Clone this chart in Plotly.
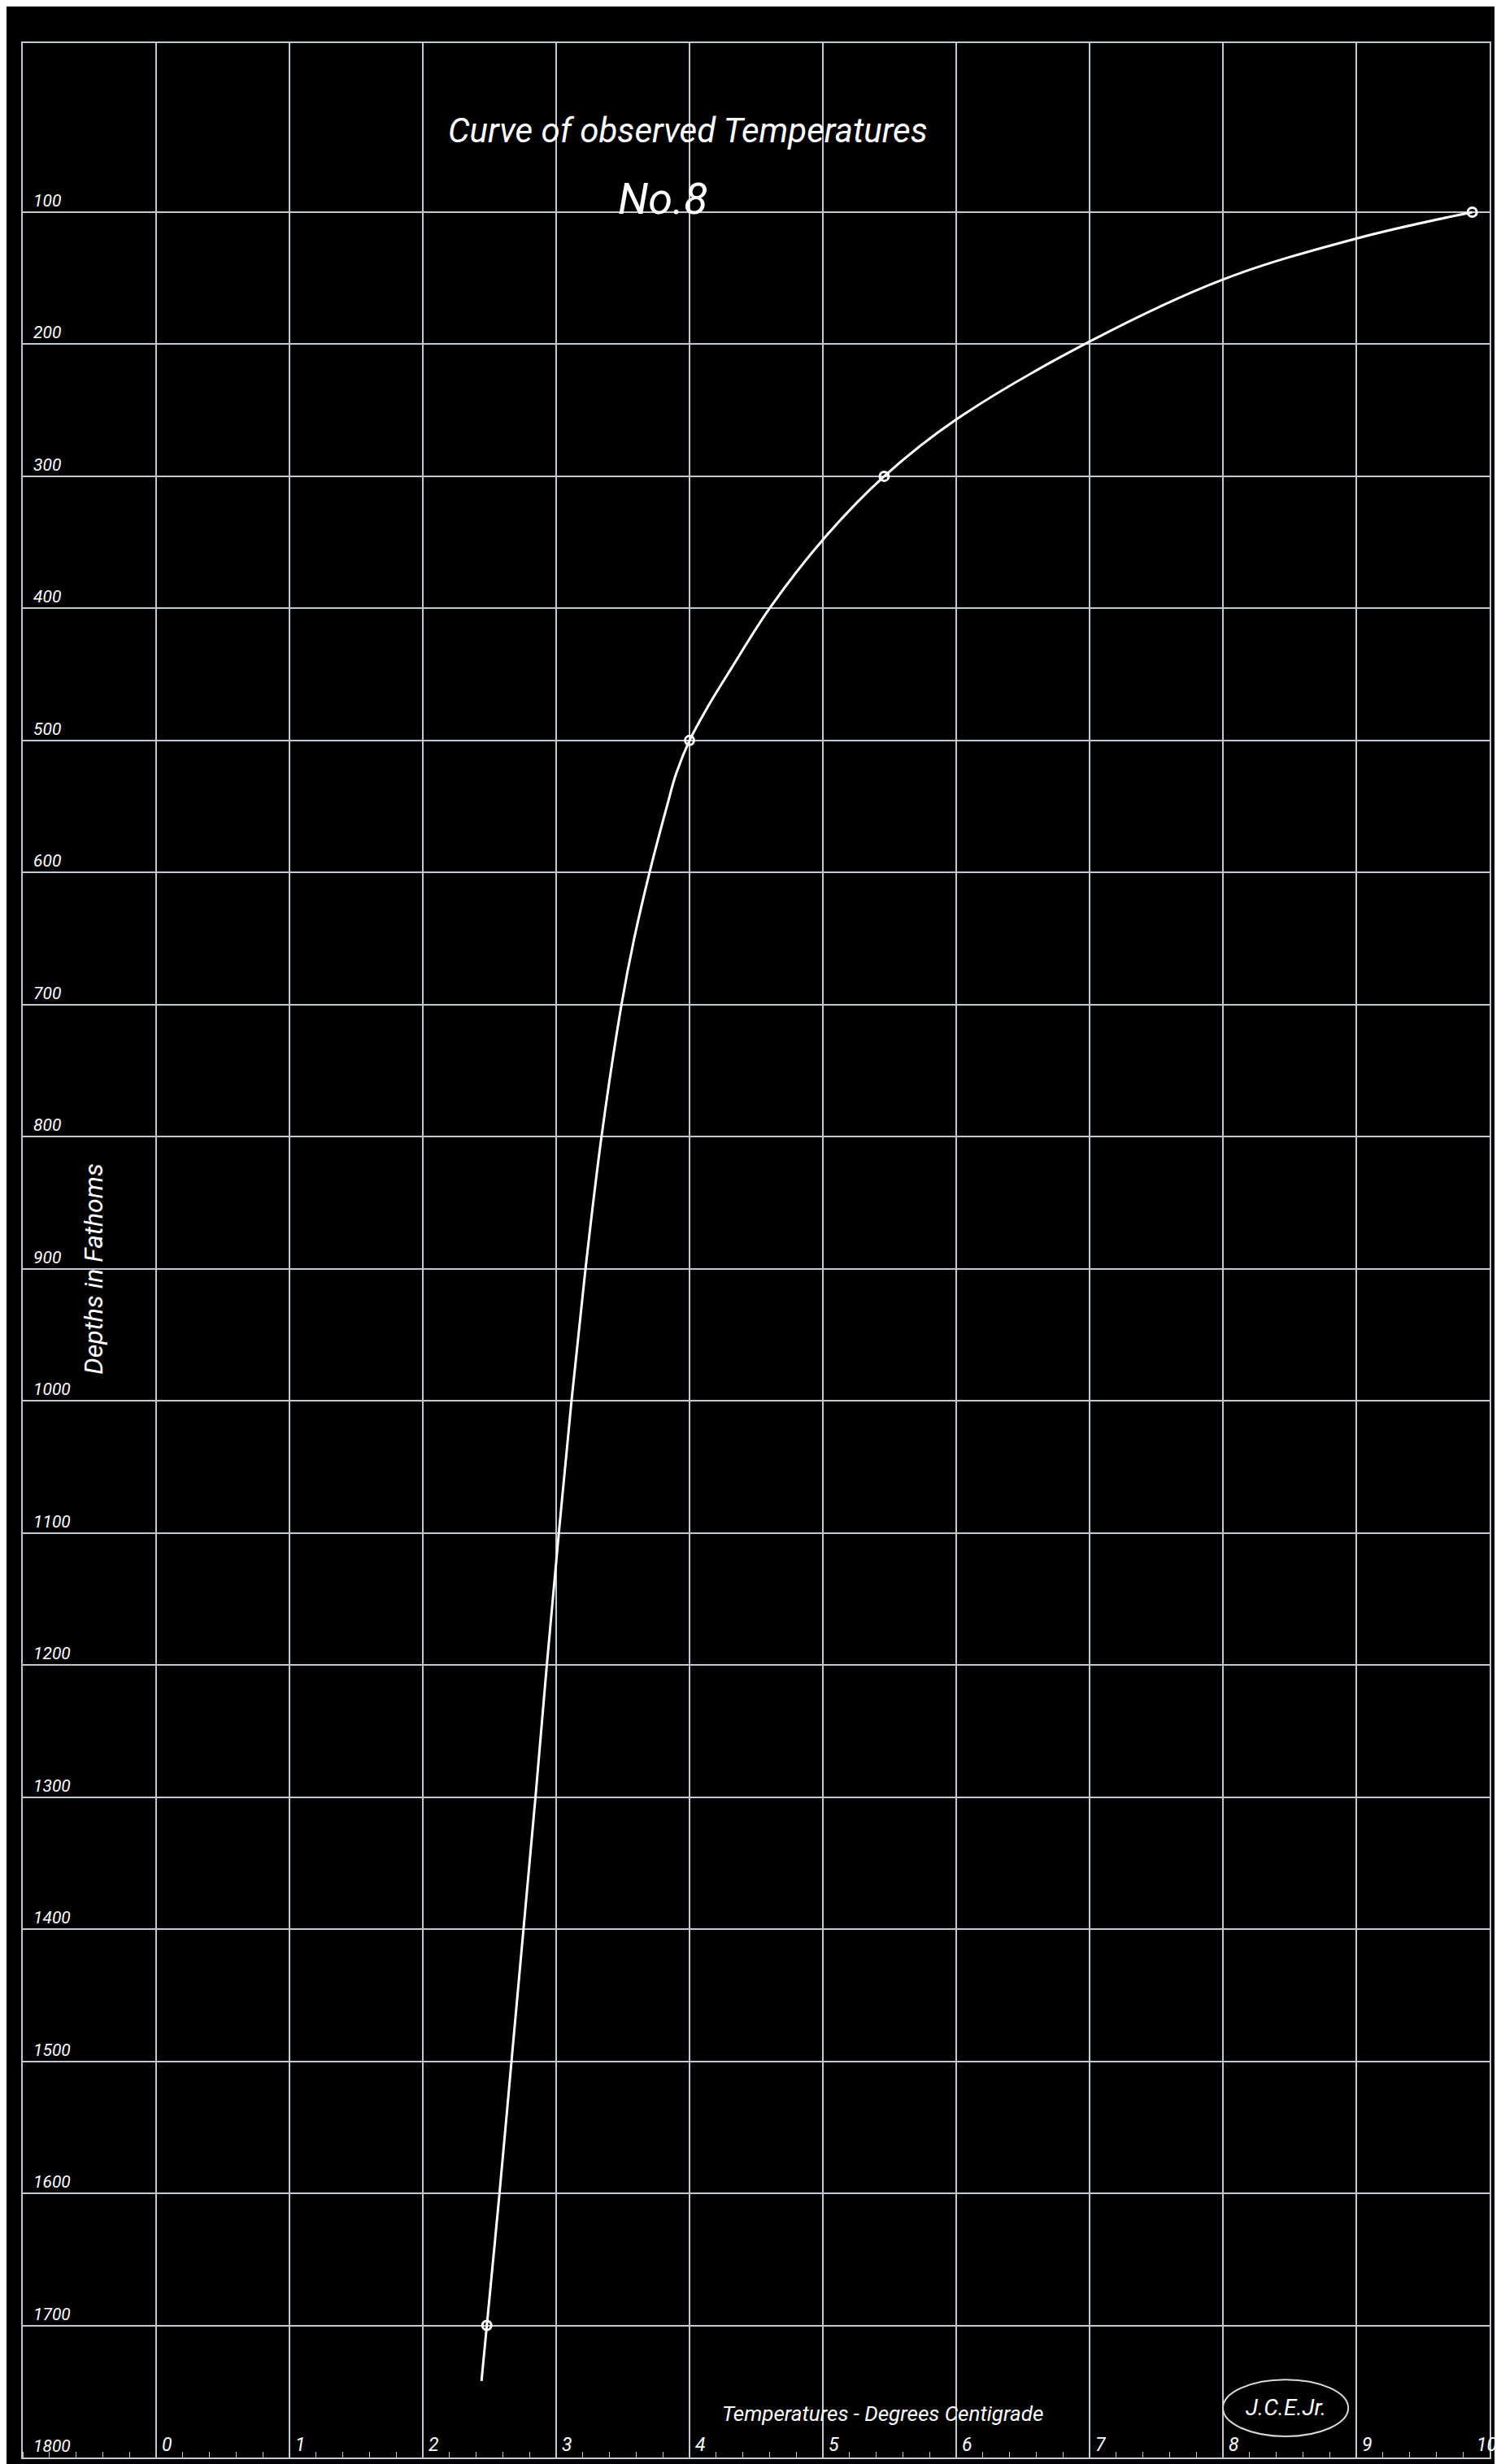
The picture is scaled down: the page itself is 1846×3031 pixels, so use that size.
import plotly.graph_objects as go

# ---- data ----
# smooth curve drawn through the observations (temperature °C, depth fathoms)
curve_temp = [9.87, 9.0, 8.0, 7.0, 6.0, 5.46, 5.0, 4.6, 4.31, 4.14, 4.0, 3.9, 3.83, 3.70,
              3.585, 3.49, 3.34, 3.22, 3.115, 3.02, 2.93, 2.845, 2.755, 2.665, 2.575,
              2.48, 2.44]
curve_depth = [100, 120, 151, 198, 257, 300, 348, 400, 446, 474, 500, 525, 550, 600,
               650, 700, 800, 900, 1000, 1100, 1200, 1300, 1400, 1500, 1600,
               1700, 1742]

# observed points (small circles)
obs_temp = [9.87, 5.46, 4.0, 2.48]
obs_depth = [100, 300, 500, 1700]

# axes
x_ticks = [0, 1, 2, 3, 4, 5, 6, 7, 8, 9, 10]
x_tick_labels = ["0", "1", "2", "3", "4", "5", "6", "7", "8", "9", "10"]
y_ticks = [100, 200, 300, 400, 500, 600, 700, 800, 900, 1000, 1100, 1200,
           1300, 1400, 1500, 1600, 1700, 1800]
y_tick_labels = ["100", "200", "300", "400", "500", "600", "700", "800", "900", "1000",
                 "1100", "1200", "1300", "1400", "1500", "1600", "1700", "1800"]

title_text = "Curve of observed Temperatures"
subtitle_text = "No.8"
x_title = "Temperatures - Degrees Centigrade"
y_title = "Depths in Fathoms"
signature = "J.C.E.Jr."

# ---- style ----
GRID = "#c0c9d1"
FONT = "Roboto, Open Sans, DejaVu Sans, sans-serif"

fig = go.Figure()
fig.add_trace(go.Scatter(
    x=curve_temp, y=curve_depth, mode="lines",
    line=dict(color="white", width=3, shape="spline", smoothing=1.0),
    hoverinfo="skip"))
fig.add_trace(go.Scatter(
    x=obs_temp, y=obs_depth, mode="markers",
    marker=dict(symbol="circle-open", size=11, color="white",
                line=dict(width=3, color="white"))))

annotations = []
# title
annotations.append(dict(x=3.99, y=38, xref="x", yref="y", text=title_text,
                        showarrow=False, xanchor="center", yanchor="middle",
                        font=dict(family=FONT, size=42, color="white", style="italic")))
annotations.append(dict(x=3.80, y=90, xref="x", yref="y", text=subtitle_text,
                        showarrow=False, xanchor="center", yanchor="middle",
                        font=dict(family=FONT, size=54, color="white", style="italic")))
# axis titles
annotations.append(dict(x=-0.47, y=900, xref="x", yref="y", text=y_title, textangle=-90,
                        showarrow=False, xanchor="center", yanchor="middle",
                        font=dict(family=FONT, size=32, color="white", style="italic")))
annotations.append(dict(x=5.45, y=1767, xref="x", yref="y", text=x_title,
                        showarrow=False, xanchor="center", yanchor="middle",
                        font=dict(family=FONT, size=26, color="white", style="italic")))
# signature
annotations.append(dict(x=8.47, y=1762, xref="x", yref="y", text=signature,
                        showarrow=False, xanchor="center", yanchor="middle",
                        font=dict(family=FONT, size=28, color="white", style="italic")))
# x tick labels, just right of each vertical line above the bottom line
for v, lab in zip(x_ticks, x_tick_labels):
    last = v == x_ticks[-1]
    annotations.append(dict(x=v - 0.02 if last else v + 0.03, y=1800, xref="x", yref="y",
                            text=lab, showarrow=False, xshift=14 if last else 0,
                            xanchor="right" if last else "left", yanchor="bottom",
                            font=dict(family=FONT, size=23, color="white", style="italic")))
# y tick labels, just above each horizontal line at the left
for v, lab in zip(y_ticks, y_tick_labels):
    annotations.append(dict(x=-0.93, y=v, xref="x", yref="y", text=lab,
                            showarrow=False, xanchor="left", yanchor="bottom",
                            font=dict(family=FONT, size=21, color="white", style="italic")))

fig.update_layout(
    width=1846, height=3031,
    margin=dict(l=20, r=22, t=45, b=16),
    paper_bgcolor="black", plot_bgcolor="black",
    showlegend=False,
    annotations=annotations,
    shapes=[dict(type="circle", xref="x", yref="y", x0=8.0, x1=8.94, y0=1741, y1=1784,
                 line=dict(color="#d8d8d8", width=2))],
    xaxis=dict(range=[-1, 10], tickvals=x_ticks, showticklabels=False, ticks="",
               showgrid=True, gridcolor=GRID, gridwidth=2, zeroline=False,
               showline=True, linecolor=GRID, linewidth=2, mirror=True,
               minor=dict(ticks="inside", tick0=0, dtick=0.2, ticklen=7,
                          tickcolor=GRID, tickwidth=1, showgrid=False)),
    yaxis=dict(range=[1800, -28], tickvals=y_ticks, showticklabels=False, ticks="",
               showgrid=True, gridcolor=GRID, gridwidth=2, zeroline=False,
               showline=True, linecolor=GRID, linewidth=2, mirror=True),
)

fig.write_html("out.html")
